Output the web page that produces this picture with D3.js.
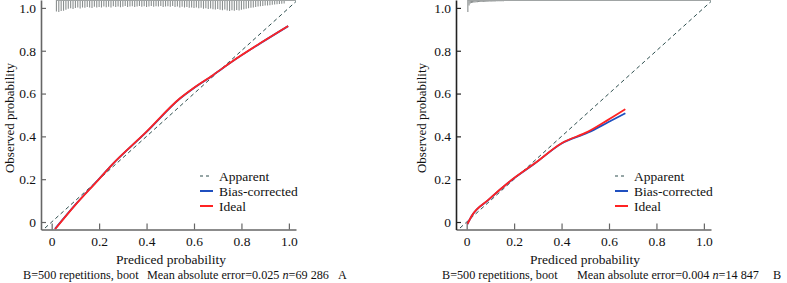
<!DOCTYPE html>
<html>
<head>
<meta charset="utf-8">
<script src="https://cdn.jsdelivr.net/npm/d3@7"></script>
<style>
  body { margin: 0; background: #fff; }
  svg text { font-family: "Liberation Serif", "Times New Roman", serif; fill: #111; }
</style>
</head>
<body>
<svg id="chart" width="787" height="283"></svg>
<script>
// tick values shared by both panels
const ticks = [0, 0.2, 0.4, 0.6, 0.8, 1.0];

// panel A calibration curves (predicted, observed)
const leftIdeal = [[0.014, -0.034], [0.10, 0.08], [0.196, 0.196], [0.253, 0.266], [0.40, 0.422],
  [0.541, 0.578], [0.597, 0.625], [0.681, 0.687], [0.759, 0.749], [0.88, 0.836], [0.997, 0.916]];
const leftBias = [[0.014, -0.032], [0.10, 0.081], [0.196, 0.197], [0.253, 0.266], [0.40, 0.421],
  [0.541, 0.577], [0.597, 0.624], [0.681, 0.686], [0.759, 0.748], [0.88, 0.835], [0.997, 0.915]];

// panel B calibration curves
const rightIdeal = [[0.003, -0.01], [0.021, 0.028], [0.091, 0.103], [0.189, 0.196], [0.287, 0.274],
  [0.40, 0.368], [0.512, 0.422], [0.596, 0.477], [0.669, 0.527]];
const rightBias = [[0.003, -0.01], [0.021, 0.028], [0.091, 0.102], [0.189, 0.195], [0.287, 0.273],
  [0.40, 0.367], [0.512, 0.418], [0.596, 0.466], [0.669, 0.508]];

// rug counts (relative) per 0.01 bin, panel A from 0.02 to 0.98
const leftRugStart = 0.02;
const leftRug = [95, 100, 92, 88, 80, 70, 66, 72, 64, 60, 68, 58, 62, 55, 60, 64, 52, 58, 55, 60,
  50, 56, 52, 58, 48, 54, 50, 56, 52, 46, 55, 50, 48, 54, 50, 46, 52, 48, 55, 50,
  45, 52, 48, 50, 46, 54, 50, 48, 52, 46, 55, 50, 58, 52, 60, 55, 62, 58, 64, 60,
  66, 62, 70, 65, 72, 68, 75, 78, 72, 80, 84, 78, 86, 90, 84, 88, 82, 86, 80, 75,
  70, 66, 62, 58, 55, 50, 48, 45, 42, 40, 38, 35, 32, 30, 28, 25, 22];
// panel B, 0.005 bins from 0.005
const rightRugStart = 0.005;
const rightRug = [100, 40, 22, 18, 16, 14, 13, 12, 11, 10, 9, 9, 8, 8, 7, 7, 6, 6, 5, 5,
  5, 4, 4, 4, 3, 3, 3, 2, 2, 2, 2, 1, 1, 1, 1, 1];

// legend entries
const legendItems = [
  { label: "Apparent", color: "#2f4f4f", dash: "3,3" },
  { label: "Bias-corrected", color: "#1f4fbf", dash: null },
  { label: "Ideal", color: "#ff2323", dash: null }
];

const panels = [
  { x0: 41, x1: 296, ideal: leftIdeal, bias: leftBias, rug: leftRug, rugStart: leftRugStart, rugStep: 0.01,
    yAxisColor: "#666", legendX: 200, titleX: 171, yTitleX: 9,
    caption: { x: 23, text: "B=500 repetitions, boot" }, mae: { x: 147, text: "Mean absolute error=0.025 ", n: "69 286" }, tag: { x: 338, text: "A" } },
  { x0: 456, x1: 711, ideal: rightIdeal, bias: rightBias, rug: rightRug, rugStart: rightRugStart, rugStep: 0.005,
    yAxisColor: "#222", legendX: 615, titleX: 585, yTitleX: 421,
    caption: { x: 442, text: "B=500 repetitions, boot" }, mae: { x: 577, text: "Mean absolute error=0.004 ", n: "14 847" }, tag: { x: 773, text: "B" } }
];

const svg = d3.select("#chart");
const yTop = 0;
const yBottom = 229.5;

panels.forEach((p, k) => {
  const x = d3.scaleLinear().domain([-0.045, 1.03]).range([p.x0, p.x1]);
  const y = d3.scaleLinear().domain([-0.035, 1.037]).range([yBottom, yTop]);
  const g = svg.append("g");

  // clip to plot area
  const clipId = "clip" + k;
  svg.append("clipPath").attr("id", clipId)
    .append("rect")
    .attr("x", p.x0).attr("y", yTop)
    .attr("width", p.x1 - p.x0).attr("height", yBottom - yTop);
  const plot = g.append("g").attr("clip-path", "url(#" + clipId + ")");

  // rug hanging from the top
  const rugLen = d3.scaleLinear().domain([0, 100]).range([1, 12]);
  plot.selectAll(".rug")
    .data(p.rug)
    .enter()
    .append("line")
    .attr("x1", (d, i) => x(p.rugStart + i * p.rugStep))
    .attr("x2", (d, i) => x(p.rugStart + i * p.rugStep))
    .attr("y1", yTop)
    .attr("y2", d => yTop + rugLen(d))
    .attr("stroke", "#8a8f8f")
    .attr("stroke-width", 1.1);
  plot.append("line")
    .attr("x1", x(p.rugStart)).attr("x2", p.x1)
    .attr("y1", yTop + 0.5).attr("y2", yTop + 0.5)
    .attr("stroke", "#a0a4a4").attr("stroke-width", 1);

  // apparent (diagonal)
  plot.append("line")
    .attr("x1", x(-0.05)).attr("y1", y(-0.05))
    .attr("x2", x(1.04)).attr("y2", y(1.04))
    .attr("stroke", "#2f4f4f")
    .attr("stroke-width", 1)
    .attr("stroke-dasharray", "4,3");

  const line = d3.line()
    .x(d => x(d[0]))
    .y(d => y(d[1]))
    .curve(d3.curveMonotoneX);
  plot.append("path")
    .datum(p.bias)
    .attr("d", line)
    .attr("fill", "none")
    .attr("stroke", "#1f4fbf")
    .attr("stroke-width", 1.8);
  plot.append("path")
    .datum(p.ideal)
    .attr("d", line)
    .attr("fill", "none")
    .attr("stroke", "#ff2323")
    .attr("stroke-width", 1.8);

  // axes
  const fmt = d => d === 0 ? "0" : d3.format(".1f")(d);
  const xAxis = g.append("g")
    .attr("transform", "translate(0," + yBottom + ")")
    .call(d3.axisBottom(x).tickValues(ticks).tickFormat(fmt).tickSizeInner(-6).tickSizeOuter(0).tickPadding(7));
  xAxis.select(".domain").attr("stroke", "#666").attr("stroke-width", 1.6);
  xAxis.selectAll(".tick line").attr("stroke", "#666").attr("stroke-width", 1.2);

  const yAxis = g.append("g")
    .attr("transform", "translate(" + p.x0 + ",0)")
    .call(d3.axisLeft(y).tickValues(ticks).tickFormat(fmt).tickSizeInner(-5).tickSizeOuter(0).tickPadding(5));
  yAxis.select(".domain").attr("stroke", p.yAxisColor).attr("stroke-width", 1.6);
  yAxis.selectAll(".tick line").attr("stroke", p.yAxisColor).attr("stroke-width", 1.2);
  g.selectAll(".tick text")
    .style("font-family", "'Liberation Serif', 'Times New Roman', serif")
    .style("font-size", "13.5px")
    .attr("fill", "#111");

  // axis titles
  g.append("text")
    .attr("x", p.titleX).attr("y", 264)
    .attr("text-anchor", "middle")
    .style("font-size", "13.5px")
    .text("Prediced probability");
  g.append("text")
    .attr("transform", "translate(" + p.yTitleX + ",118) rotate(-90)")
    .attr("text-anchor", "middle")
    .attr("dy", "0.35em")
    .style("font-size", "13px")
    .text("Observed probability");

  // legend
  const legend = g.selectAll(".key")
    .data(legendItems)
    .enter()
    .append("g")
    .attr("transform", (d, i) => "translate(" + p.legendX + "," + (176 + i * 15) + ")");
  legend.append("line")
    .attr("x1", 0).attr("x2", d => d.dash ? 12 : 13)
    .attr("y1", 0).attr("y2", 0)
    .attr("stroke", d => d.color)
    .attr("stroke-width", d => d.dash ? 1.2 : 2)
    .attr("stroke-dasharray", d => d.dash);
  legend.append("text")
    .attr("x", 19)
    .attr("dy", "0.35em")
    .style("font-size", "13.5px")
    .text(d => d.label);

  // captions
  g.append("text").attr("x", p.caption.x).attr("y", 279).style("font-size", "12.2px").text(p.caption.text);
  const mae = g.append("text").attr("x", p.mae.x).attr("y", 279).style("font-size", "12.2px");
  mae.append("tspan").text(p.mae.text);
  mae.append("tspan").style("font-style", "italic").text("n");
  mae.append("tspan").text("=" + p.mae.n);
  g.append("text").attr("x", p.tag.x).attr("y", 279).style("font-size", "12.2px").text(p.tag.text);
});
</script>
</body>
</html>
